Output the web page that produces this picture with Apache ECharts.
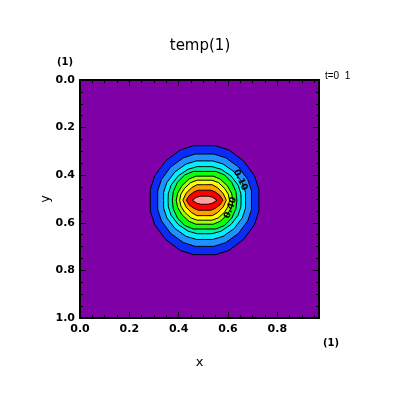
<!DOCTYPE html>
<html><head><meta charset="utf-8">
<script src="https://cdn.jsdelivr.net/npm/echarts@6/dist/echarts.min.js"></script>
<style>html,body{margin:0;padding:0;background:#fff}#c{width:400px;height:400px}</style>
</head><body><div id="c"></div>
<script>
// ---- data ----
const xRange = [0, 0.96875];
const yRange = [0, 1];
const xTicks = [0, 0.2, 0.4, 0.6, 0.8];
const xMinorTicks = [0.05,0.1,0.15,0.25,0.3,0.35,0.45,0.5,0.55,0.65,0.7,0.75,0.85,0.9,0.95];
const yTicks = [0, 0.2, 0.4, 0.6, 0.8, 1.0];
const yMinorTicks = [0.05,0.1,0.15,0.25,0.3,0.35,0.45,0.5,0.55,0.65,0.7,0.75,0.85,0.9,0.95];
const peakCenter = [0.505, 0.505];
const contourLevels = [0.1, 0.2, 0.3, 0.4, 0.5, 0.6, 0.7, 0.8, 0.9, 1.0];
// quadrant outlines of each filled contour (offsets from the peak, x then y)
const q010 = [[.220,0],[.220,.046],[.202,.103],[.158,.165],[.099,.211],[.044,.229],[0,.229]];
const q020 = [[.190,0],[.190,.039],[.175,.087],[.137,.140],[.086,.178],[.038,.194],[0,.194]];
const q030 = [[.166,0],[.166,.033],[.153,.074],[.120,.119],[.075,.152],[.033,.165],[0,.165]];
const q040 = [[.148,0],[.147,.028],[.136,.063],[.107,.102],[.067,.130],[.030,.141],[0,.141]];
const q050 = [[.131,0],[.127,.036],[.110,.075],[.081,.106],[.046,.121],[0,.121]];
const q060 = [[.115,0],[.109,.030],[.092,.061],[.063,.089],[.035,.101],[0,.101]];
const q070 = [[.101,0],[.096,.025],[.081,.050],[.056,.074],[.030,.084],[0,.084]];
const q080 = [[.088,0],[.075,.029],[.053,.052],[.031,.065],[0,.065]];
const q090 = [[.074,0],[.063,.019],[.044,.034],[.026,.042],[0,.042]];
const q100 = [[.050,0],[.033,.012],[.015,.017],[0,.017]];
const contourLabels = [[0.650, 0.420, '0.10'], [0.610, 0.537, '0.40']];

// ---- styles ----
const bandColors = ['#0a2cf5','#1e90ff','#00f0ff','#00f0a8','#10ff10','#a0ff00','#ffff00','#ffa000','#ff0000','#ffa0a0'];
const bgColor = '#8000a8';
const labelRot = [-65, 70];
const FONT = '"DejaVu Sans", "Liberation Sans", Arial, sans-serif';

const outlines = [q010,q020,q030,q040,q050,q060,q070,q080,q090,q100];
const contourData = contourLevels.map((v, i) => [peakCenter[0], peakCenter[1], i, v]);

function ringPoints(q, api) {
  const cx = peakCenter[0], cy = peakCenter[1];
  const pts = [];
  q.forEach(p => pts.push(api.coord([cx + p[0], cy - p[1]])));
  q.slice().reverse().forEach(p => pts.push(api.coord([cx - p[0], cy - p[1]])));
  q.forEach(p => pts.push(api.coord([cx - p[0], cy + p[1]])));
  q.slice().reverse().forEach(p => pts.push(api.coord([cx + p[0], cy + p[1]])));
  return pts;
}

function ax(gridIndex, position, range, ticks, len, extra) {
  return Object.assign({
    type: 'value', gridIndex, position, min: range[0], max: range[1],
    axisLine: {show: gridIndex === 0, onZero: false, lineStyle: {color: '#000', width: 2}},
    splitLine: {show: false},
    axisLabel: {show: false},
    axisTick: {show: true, inside: true, length: len, customValues: ticks, lineStyle: {color: '#000', width: 1}}
  }, extra || {});
}

const xLabelStyle = {show: true, customValues: xTicks, margin: 6, color: '#000', fontFamily: FONT, fontWeight: 'bold', fontSize: 11, formatter: v => v.toFixed(1)};
const yLabelStyle = {show: true, customValues: yTicks, margin: 5, color: '#000', fontFamily: FONT, fontWeight: 'bold', fontSize: 11, formatter: v => v.toFixed(1)};

const xAxes = [
  ax(0, 'bottom', xRange, xTicks, 6, {name: 'x', nameLocation: 'middle', nameGap: 38, nameMoveOverlap: false,
    nameTextStyle: {fontFamily: FONT, fontSize: 13, color: '#000'}, axisLabel: xLabelStyle}),
  ax(0, 'top', xRange, xTicks, 6),
  ax(1, 'bottom', xRange, xMinorTicks, 3),
  ax(1, 'top', xRange, xMinorTicks, 3)
];
const yAxes = [
  ax(0, 'left', yRange, yTicks, 6, {inverse: true, name: 'y', nameLocation: 'middle', nameGap: 28, nameMoveOverlap: false,
    nameTextStyle: {fontFamily: FONT, fontSize: 13, color: '#000'}, axisLabel: yLabelStyle}),
  ax(0, 'right', yRange, yTicks, 6, {inverse: true}),
  ax(1, 'left', yRange, yMinorTicks, 3, {inverse: true}),
  ax(1, 'right', yRange, yMinorTicks, 3, {inverse: true})
];

const gridRect = {left: 80, right: 81, top: 80, bottom: 82};

const chart = echarts.init(document.getElementById('c'), null, {renderer: 'canvas'});
chart.setOption({
  animation: false,
  backgroundColor: '#fff',
  title: {text: 'temp(1)', left: 'center', top: 34,
    textStyle: {fontFamily: FONT, fontSize: 15, fontWeight: 'normal', color: '#000'}},
  grid: [
    Object.assign({show: true, backgroundColor: bgColor, borderWidth: 0}, gridRect),
    Object.assign({show: false}, gridRect)
  ],
  xAxis: xAxes,
  yAxis: yAxes,
  graphic: [
    {type: 'text', left: 57, top: 57, style: {text: '(1)', font: 'bold 10px ' + FONT, fill: '#000'}},
    {type: 'text', left: 323, top: 338, style: {text: '(1)', font: 'bold 10px ' + FONT, fill: '#000'}},
    {type: 'text', left: 325, top: 71, style: {text: 't=0  1', font: '10px "Liberation Sans", Arial, sans-serif', fill: '#000'}}
  ],
  series: [
    {
      type: 'custom', xAxisIndex: 0, yAxisIndex: 0, clip: true, z: 1,
      data: contourData,
      renderItem: (params, api) => {
        const i = api.value(2);
        return {type: 'polygon', shape: {points: ringPoints(outlines[i], api)},
          style: {fill: bandColors[i], stroke: '#000', lineWidth: 1}};
      }
    },
    {
      type: 'custom', xAxisIndex: 0, yAxisIndex: 0, z: 2,
      data: contourLabels,
      renderItem: (params, api) => {
        const p = api.coord([api.value(0), api.value(1)]);
        return {type: 'text', x: p[0], y: p[1], rotation: labelRot[params.dataIndex] * Math.PI / 180,
          style: {text: contourLabels[params.dataIndex][2], font: 'bold 9px ' + FONT, fill: '#000',
            align: 'center', verticalAlign: 'middle'}};
      }
    }
  ]
});
</script></body></html>
